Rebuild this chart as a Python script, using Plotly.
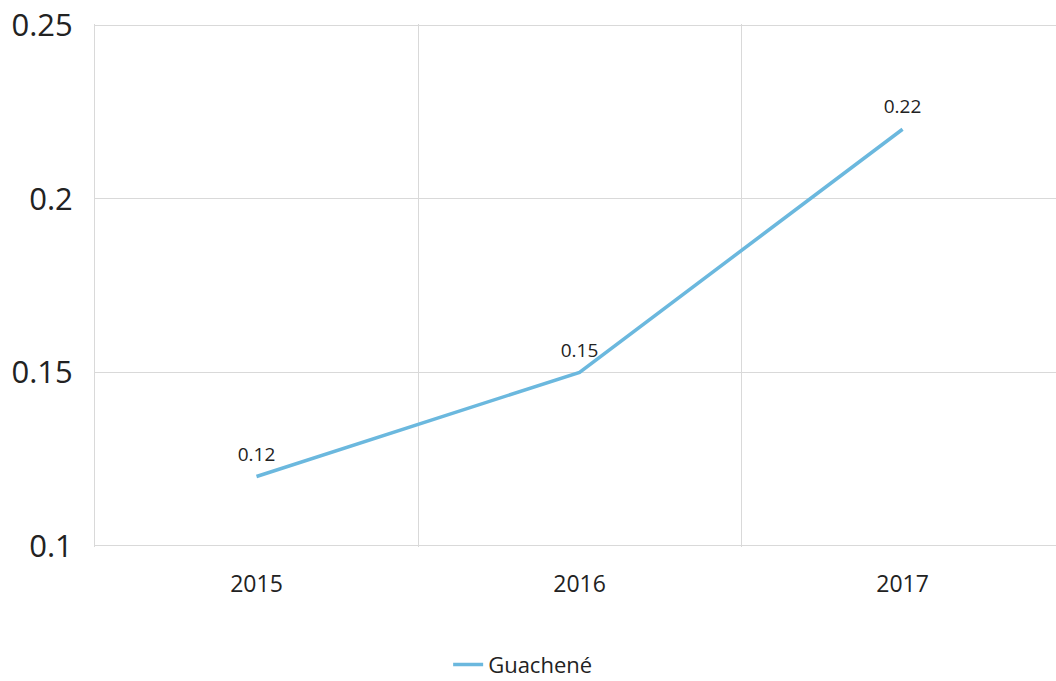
import plotly.graph_objects as go

years = ["2015", "2016", "2017"]
values = [0.12, 0.15, 0.22]
labels = ["0.12", "0.15", "0.22"]
series_name = "Guachené"
y_ticks = [0.1, 0.15, 0.2, 0.25]
y_ticktext = ["0.1", "0.15", "0.2", "0.25"]

xs = list(range(len(years)))

fig = go.Figure()
fig.add_trace(go.Scatter(
    x=xs, y=values, mode="lines+markers+text", name=series_name,
    text=labels, textposition="top center",
    textfont=dict(family="Open Sans", size=19, color="#222222"),
    line=dict(color="#6BB8DE", width=3.5),
    marker=dict(size=16, color="rgba(0,0,0,0)"),
    cliponaxis=False,
))

fig.update_layout(
    width=1056, height=681,
    margin=dict(l=95, r=0, t=24, b=134),
    paper_bgcolor="white", plot_bgcolor="white",
    font=dict(family="Open Sans", color="#222222"),
    showlegend=True,
    legend=dict(orientation="h", x=0.445, xanchor="center",
                yref="container", y=0.024, yanchor="middle",
                font=dict(size=22, color="#222222")),
    xaxis=dict(
        range=[-0.5, 2.475], tickmode="array", tickvals=xs, ticktext=years,
        showgrid=False, zeroline=False, showline=False, automargin=False,
        ticks="outside", ticklen=16, tickcolor="rgba(0,0,0,0)",
        tickfont=dict(size=23, color="#222222"),
        minor=dict(tick0=0.5, dtick=1, showgrid=True, gridcolor="#d9d9d9", gridwidth=1, ticks=""),
    ),
    yaxis=dict(
        range=[0.0997, 0.2503], tickmode="array", tickvals=y_ticks, ticktext=y_ticktext,
        showgrid=True, gridcolor="#d9d9d9", gridwidth=1, zeroline=False, automargin=False,
        showline=True, linecolor="#d9d9d9", linewidth=1,
        ticks="outside", ticklen=15, tickcolor="rgba(0,0,0,0)",
        tickfont=dict(size=31, color="#222222"),
    ),
)

fig.write_html("out.html", config={"displayModeBar": False},
               post_script="document.body.style.margin='0';document.body.style.overflow='hidden';")
